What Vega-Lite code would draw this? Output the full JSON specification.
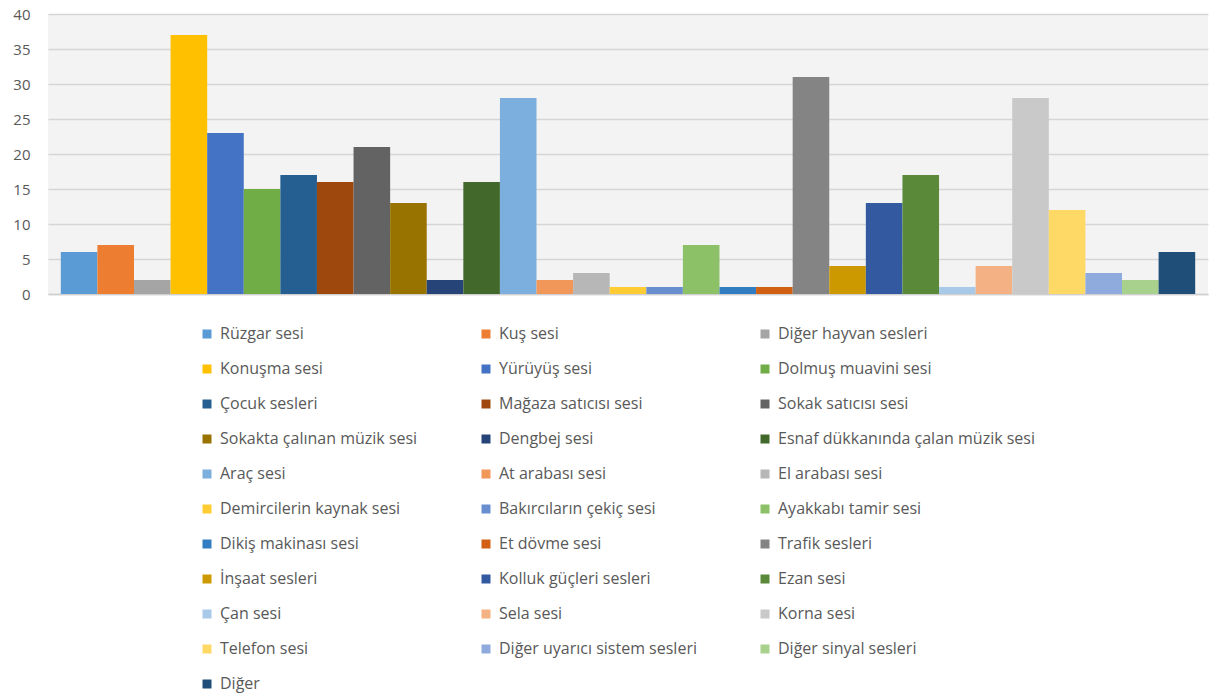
{
  "$schema": "https://vega.github.io/schema/vega-lite/v6.json",
  "width": 1160,
  "height": 280,
  "autosize": {"type": "none"},
  "padding": {"left": 48, "top": 14, "right": 5, "bottom": 404},
  "background": "#FFFFFF",
  "config": {
    "view": {"fill": "#F3F3F3", "stroke": null},
    "font": "Open Sans",
    "axis": {"labelFont": "Open Sans", "labelColor": "#595959", "labelFontSize": 15},
    "legend": {"labelFont": "Open Sans", "labelColor": "#595959", "labelFontSize": 16}
  },
  "data": {
    "values": [
      {"kategori": "Rüzgar sesi", "deger": 6},
      {"kategori": "Kuş sesi", "deger": 7},
      {"kategori": "Diğer hayvan sesleri", "deger": 2},
      {"kategori": "Konuşma sesi", "deger": 37},
      {"kategori": "Yürüyüş sesi", "deger": 23},
      {"kategori": "Dolmuş muavini sesi", "deger": 15},
      {"kategori": "Çocuk sesleri", "deger": 17},
      {"kategori": "Mağaza satıcısı sesi", "deger": 16},
      {"kategori": "Sokak satıcısı sesi", "deger": 21},
      {"kategori": "Sokakta çalınan müzik sesi", "deger": 13},
      {"kategori": "Dengbej sesi", "deger": 2},
      {"kategori": "Esnaf dükkanında çalan müzik sesi", "deger": 16},
      {"kategori": "Araç sesi", "deger": 28},
      {"kategori": "At arabası sesi", "deger": 2},
      {"kategori": "El arabası sesi", "deger": 3},
      {"kategori": "Demircilerin kaynak sesi", "deger": 1},
      {"kategori": "Bakırcıların çekiç sesi", "deger": 1},
      {"kategori": "Ayakkabı tamir sesi", "deger": 7},
      {"kategori": "Dikiş makinası sesi", "deger": 1},
      {"kategori": "Et dövme sesi", "deger": 1},
      {"kategori": "Trafik sesleri", "deger": 31},
      {"kategori": "İnşaat sesleri", "deger": 4},
      {"kategori": "Kolluk güçleri sesleri", "deger": 13},
      {"kategori": "Ezan sesi", "deger": 17},
      {"kategori": "Çan sesi", "deger": 1},
      {"kategori": "Sela sesi", "deger": 4},
      {"kategori": "Korna sesi", "deger": 28},
      {"kategori": "Telefon sesi", "deger": 12},
      {"kategori": "Diğer uyarıcı sistem sesleri", "deger": 3},
      {"kategori": "Diğer sinyal sesleri", "deger": 2},
      {"kategori": "Diğer", "deger": 6}
    ]
  },
  "mark": {"type": "bar"},
  "encoding": {
    "x": {
      "field": "kategori",
      "type": "nominal",
      "sort": null,
      "scale": {"paddingInner": 0, "paddingOuter": 0.35},
      "axis": {"labels": false, "ticks": false, "title": null, "domainColor": "#D0D0D0", "domainWidth": 1.5}
    },
    "y": {
      "field": "deger",
      "type": "quantitative",
      "scale": {"domain": [0, 40], "nice": false},
      "axis": {"values": [0, 5, 10, 15, 20, 25, 30, 35, 40], "title": null, "ticks": false, "domain": false, "gridColor": "#D5D5D5", "gridWidth": 1.5, "labelPadding": 18}
    },
    "color": {
      "field": "kategori",
      "type": "nominal",
      "sort": null,
      "scale": {
        "domain": ["Rüzgar sesi", "Kuş sesi", "Diğer hayvan sesleri", "Konuşma sesi", "Yürüyüş sesi", "Dolmuş muavini sesi", "Çocuk sesleri", "Mağaza satıcısı sesi", "Sokak satıcısı sesi", "Sokakta çalınan müzik sesi", "Dengbej sesi", "Esnaf dükkanında çalan müzik sesi", "Araç sesi", "At arabası sesi", "El arabası sesi", "Demircilerin kaynak sesi", "Bakırcıların çekiç sesi", "Ayakkabı tamir sesi", "Dikiş makinası sesi", "Et dövme sesi", "Trafik sesleri", "İnşaat sesleri", "Kolluk güçleri sesleri", "Ezan sesi", "Çan sesi", "Sela sesi", "Korna sesi", "Telefon sesi", "Diğer uyarıcı sistem sesleri", "Diğer sinyal sesleri", "Diğer"],
        "range": ["#5B9BD5", "#ED7D31", "#A5A5A5", "#FFC000", "#4472C4", "#70AD47", "#255E91", "#9E480E", "#636363", "#997300", "#264478", "#43682B", "#7CAFDD", "#F1975A", "#B7B7B7", "#FFCD33", "#698ED0", "#8CC168", "#327DC2", "#D26012", "#848484", "#CC9A00", "#335AA1", "#5A8A39", "#A9C9E8", "#F4B183", "#C9C9C9", "#FFD966", "#8FAADC", "#A9D18E", "#1F4E79"]
      },
      "legend": {
        "orient": "none",
        "legendX": 151,
        "legendY": 312,
        "title": null,
        "direction": "horizontal",
        "columns": 3,
        "gridAlign": "all",
        "columnPadding": 0,
        "rowPadding": 19,
        "symbolType": "square",
        "symbolSize": 81,
        "symbolStrokeWidth": 0,
        "symbolLimit": 0,
        "labelOffset": 5,
        "labelLimit": 400
      }
    }
  }
}
